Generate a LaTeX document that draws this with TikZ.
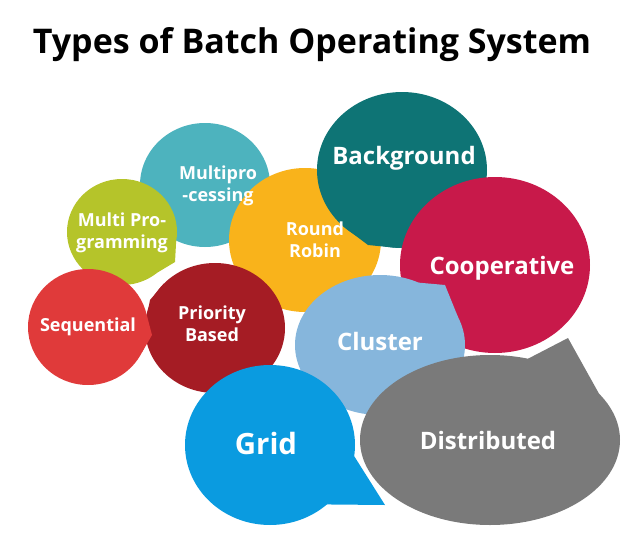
\documentclass[tikz,border=0pt]{standalone}
\usepackage{fontspec}
\setmainfont{Open Sans}
\usetikzlibrary{calc}
\definecolor{cSeq}{HTML}{E03A3A}
\definecolor{cPri}{HTML}{A51C24}
\definecolor{cMpg}{HTML}{B5C42A}
\definecolor{cMpc}{HTML}{4DB3BE}
\definecolor{cRr}{HTML}{F9B31B}
\definecolor{cBg}{HTML}{0E7475}
\definecolor{cCoop}{HTML}{C8194A}
\definecolor{cClu}{HTML}{86B6DC}
\definecolor{cGrid}{HTML}{0A9BE0}
\definecolor{cDist}{HTML}{7A7A7A}
\tikzset{lbl/.style={text=white,font=\bfseries,align=center},
 small/.style={lbl,font=\bfseries\fontsize{13.5}{16.5}\selectfont},
 big/.style={lbl,font=\bfseries\fontsize{18}{21}\selectfont}}
% name, colour, cx, cy, rx, ry, angle, tipx, tipy
\newcommand{\bubble}[9]{%
 \fill[#2] (#3,#4) ellipse[x radius=#5,y radius=#6];
 \fill[#2] ($(#3,#4)+(#7-20:#5 and #6)$) -- (#8,#9) -- ($(#3,#4)+(#7+20:#5 and #6)$) -- cycle;
 \coordinate (#1) at (#3,#4);}
\begin{document}
\begin{tikzpicture}[x=0.75pt,y=-0.75pt]
\useasboundingbox (0,0) rectangle (640,554);
\node[font=\bfseries\fontsize{25.5}{30}\selectfont] (title) at (312,45) {Types of Batch Operating System};
\bubble{mpc}{cMpc}{205}{185}{65}{62}{33}{278}{232}
\bubble{mpg}{cMpg}{122}{232}{55}{53}{30}{175}{262}
\bubble{rr}{cRr}{305}{240}{76}{72}{-22}{390}{205}
\bubble{pri}{cPri}{215}{328}{70}{65}{203}{150}{300}
\bubble{seq}{cSeq}{88}{327}{60}{58}{7}{152}{335}
\bubble{bg}{cBg}{402}{170}{85}{78}{114}{368}{245}
\bubble{coop}{cCoop}{495}{265}{95}{88}{152}{420}{305}
\bubble{clu}{cClu}{380}{345}{85}{70}{-43}{445}{285}
\bubble{grid}{cGrid}{270}{445}{85}{80}{28}{385}{505}
\bubble{dist}{cDist}{490}{440}{130}{85}{-53}{568}{338}
\node[small] (tmpc) at (218,186) {Multipro\\-cessing};
\node[small] (tmpg) at (122,233) {Multi Pro-\\gramming};
\node[small] (trr) at (315,240) {Round\\Robin};
\node[small] (tpri) at (212,324) {Priority\\Based};
\node[small] (tseq) at (88,327) {Sequential};
\node[big] (tbg) at (404,158) {Background};
\node[big] (tcoop) at (502,268) {Cooperative};
\node[big] (tclu) at (380,341) {Cluster};
\node[lbl,font=\bfseries\fontsize{22}{26}\selectfont] (tgrid) at (266,443) {Grid};
\node[big] (tdist) at (488,440) {Distributed};
\end{tikzpicture}
\end{document}
